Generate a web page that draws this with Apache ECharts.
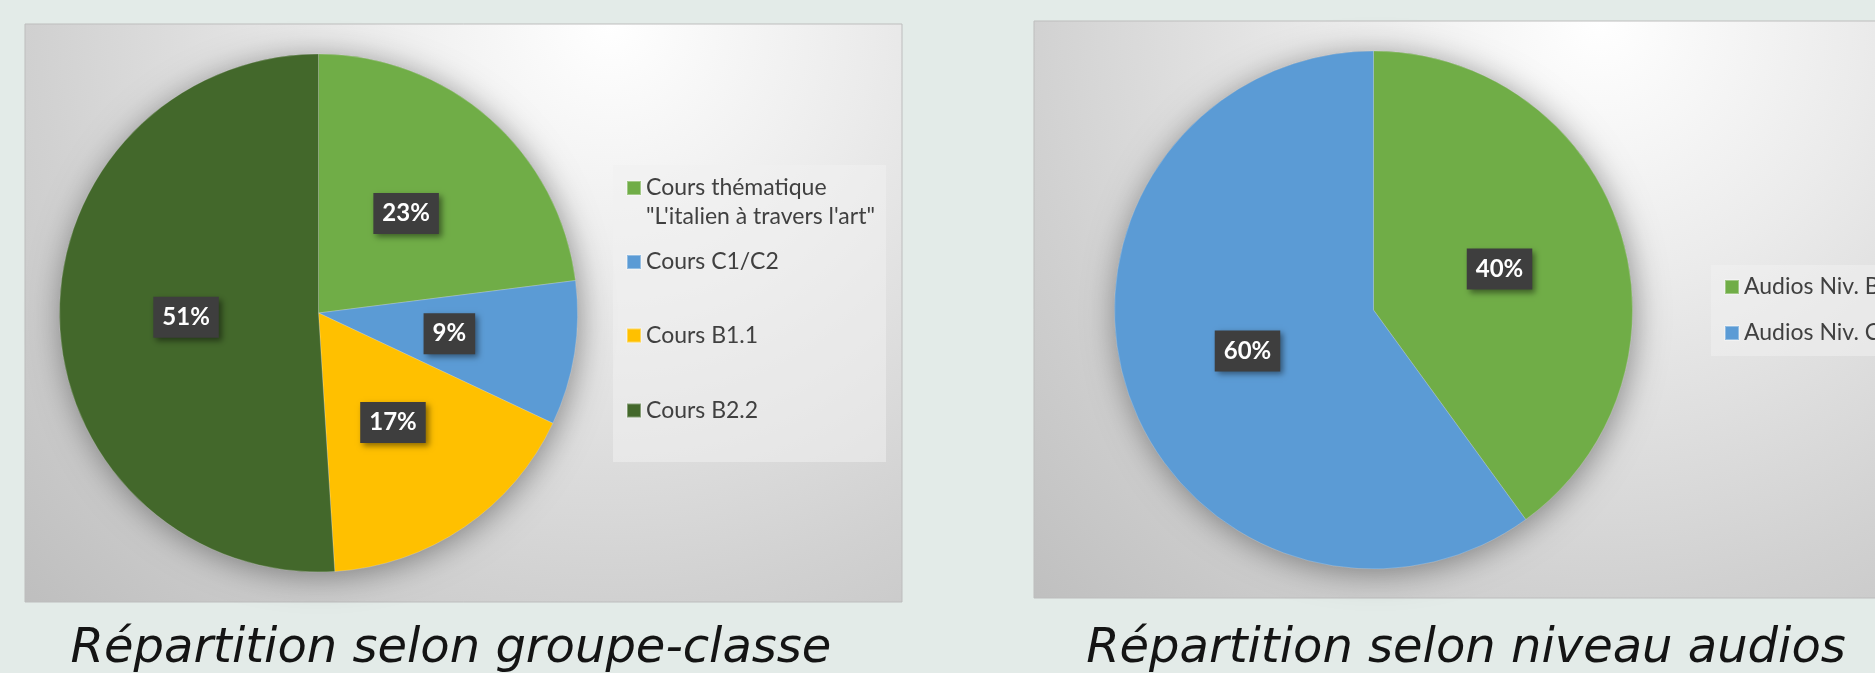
<!DOCTYPE html>
<html>
<head>
<meta charset="utf-8">
<script src="https://cdn.jsdelivr.net/npm/echarts@6/dist/echarts.min.js"></script>
<style>
html,body{margin:0;padding:0;background:#e3ebe8;}
#main{width:1875px;height:673px;}
</style>
</head>
<body>
<div id="main"></div>
<script>
// ---- data ----
const groupCategories = ['Cours thématique "L\'italien à travers l\'art"', 'Cours C1/C2', 'Cours B1.1', 'Cours B2.2'];
const groupValues = [23, 9, 17, 51];
const groupColors = ['#70ad47', '#5b9bd5', '#ffc000', '#43682b'];

const audioCategories = ['Audios Niv. B1', 'Audios Niv. C1'];
const audioValues = [40, 60];
const audioColors = ['#70ad47', '#5b9bd5'];

const titles = ['Répartition selon groupe-classe', 'Répartition selon niveau audios'];

// ---- chart ----
const chart = echarts.init(document.getElementById('main'), null, {renderer: 'canvas'});

function panelFill(cx, cy) {
  return new echarts.graphic.RadialGradient(cx, cy, 880, [
    {offset: 0, color: '#ffffff'},
    {offset: 0.3, color: '#ebebeb'},
    {offset: 0.65, color: '#d1d1d1'},
    {offset: 1, color: '#bababa'}
  ], true);
}

const labelStyle = {
  show: true,
  position: 'inside',
  formatter: '{c}%',
  color: '#ffffff',
  fontFamily: 'Lato',
  fontWeight: 'bold',
  fontSize: 24,
  lineHeight: 25,
  backgroundColor: '#3e3e3e',
  padding: [8, 9, 8, 9],
  shadowBlur: 6,
  shadowOffsetX: 3,
  shadowOffsetY: 3,
  shadowColor: 'rgba(0,0,0,0.45)'
};

function mkData(cats, vals, cols) {
  return cats.map((c, i) => ({name: c, value: vals[i], itemStyle: {color: cols[i]}}));
}

function shadowSeries(center, radius, total) {
  return {
    type: 'pie', silent: true, z: 1,
    center: center, radius: radius,
    data: [{name: '_shadow', value: total}],
    label: {show: false}, labelLine: {show: false},
    itemStyle: {color: '#999', shadowBlur: 32, shadowColor: 'rgba(0,0,0,0.4)', shadowOffsetX: 2, shadowOffsetY: 4},
    emphasis: {disabled: true}, tooltip: {show: false}
  };
}

const legendText = {fontFamily: 'Lato', fontSize: 23, color: '#404040', lineHeight: 29};

function itemLegend(name, left, top, formatter) {
  const l = {
    data: [name], orient: 'vertical', left: left, top: top,
    itemWidth: 14, itemHeight: 14, itemGap: 0, padding: 0,
    icon: 'rect', textStyle: legendText, selectedMode: false
  };
  if (formatter) l.formatter = formatter;
  return l;
}

const legends = [
  itemLegend(groupCategories[0], 626, 144.5, n => '\n' + n.replace(' "', '\n"')),
  itemLegend(groupCategories[1], 626, 247.5),
  itemLegend(groupCategories[2], 626, 321),
  itemLegend(groupCategories[3], 626, 396),
  itemLegend(audioCategories[0], 1724, 272.5),
  itemLegend(audioCategories[1], 1724, 318.5)
];

const option = {
  backgroundColor: '#e3ebe8',
  animation: false,
  legend: legends,
  graphic: [
    {type: 'rect', z: -10, shape: {x: 25, y: 24, width: 877, height: 578},
      style: {fill: panelFill(610, 24), stroke: '#bdbdbd', lineWidth: 1}},
    {type: 'rect', z: -10, shape: {x: 1034, y: 21, width: 880, height: 577},
      style: {fill: panelFill(1600, 21), stroke: '#bdbdbd', lineWidth: 1}},
    {type: 'rect', z: -9, shape: {x: 613, y: 165, width: 273, height: 297},
      style: {fill: 'rgba(240,240,240,0.55)'}},
    {type: 'rect', z: -9, shape: {x: 1711, y: 265, width: 200, height: 91},
      style: {fill: 'rgba(240,240,240,0.55)'}},
    {type: 'text', x: 451, y: 650, style: {text: titles[0], fontFamily: 'DejaVu Sans', fontStyle: 'italic', fontSize: 48, fill: '#141414', align: 'center', verticalAlign: 'middle'}},
    {type: 'text', x: 1466, y: 650, style: {text: titles[1], fontFamily: 'DejaVu Sans', fontStyle: 'italic', fontSize: 48, fill: '#141414', align: 'center', verticalAlign: 'middle'}}
  ],
  series: [
    shadowSeries([318.5, 313], 259, groupValues.reduce((a, b) => a + b, 0)),
    {
      type: 'pie', z: 2,
      center: [318.5, 313], radius: 259,
      startAngle: 90, clockwise: true,
      data: mkData(groupCategories, groupValues, groupColors),
      label: labelStyle, labelLine: {show: false},
      itemStyle: {borderColor: 'rgba(255,255,255,0.35)', borderWidth: 0.6},
      emphasis: {disabled: true}
    },
    shadowSeries([1373.5, 310], 259, audioValues.reduce((a, b) => a + b, 0)),
    {
      type: 'pie', z: 2,
      center: [1373.5, 310], radius: 259,
      startAngle: 90, clockwise: true,
      data: mkData(audioCategories, audioValues, audioColors),
      label: labelStyle, labelLine: {show: false},
      itemStyle: {borderColor: 'rgba(255,255,255,0.35)', borderWidth: 0.6},
      emphasis: {disabled: true}
    }
  ]
};
chart.setOption(option);
</script>
</body>
</html>
